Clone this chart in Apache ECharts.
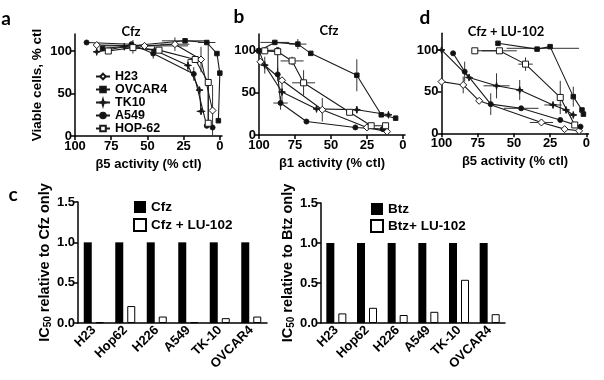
<!DOCTYPE html>
<html>
<head>
<meta charset="utf-8">
<script src="https://cdn.jsdelivr.net/npm/echarts@6/dist/echarts.min.js"></script>
<style>
  html, body { margin: 0; padding: 0; background: #fff; }
  #chart { width: 604px; height: 380px; }
</style>
</head>
<body>
<div id="chart"></div>
<script>
// panel a: viable cells vs beta5 activity, Cfz  ([activity, viable])
const aH23 = [[85,107],[52,106],[31,108],[13,90],[5,30]];
const aOVCAR4 = [[81,103],[24,112],[9,110],[2,97],[0,74],[1,18]];
const aTK10 = [[85,99],[66,105],[45,101],[22,83],[14,54],[13,29]];
const aA549 = [[92,110],[61,108],[46,97],[18,73],[9,12],[5,10]];
const aHOP62 = [[77,100],[60,104],[42,101],[17,90],[8,63],[8,15]];
// error bars [x, y, dx, dy]
const aErr = [[60,105,0,8],[52,106,30,0],[31,108,10,8],[24,112,16,0],[46,97,0,6],[22,83,0,7],
  [13,90,0,15],[17,90,5,0],[8,63,0,45],[5,30,0,30],[13,29,3,0],[18,73,0,8],[9,110,6,0]];

// panel b: beta1 activity, Cfz
const bH23 = [[99,87],[84,65],[56,30],[25,9],[11,4]];
const bOVCAR4 = [[100,100],[89,110],[73,108],[64,97],[32,71],[15,24],[5,20]];
const bTK10 = [[100,100],[96,83],[84,51],[60,31],[32,30],[10,24]];
const bA549 = [[100,100],[87,101],[87,72],[85,38],[67,16],[33,9],[14,7]];
const bHOP62 = [[96,100],[87,99],[77,88],[69,62],[37,27],[22,11],[12,11]];
const bErr = [[89,110,10,0],[73,108,6,6],[32,71,0,19],[77,88,8,5],[69,62,8,15],[85,38,5,8],
  [56,30,0,14],[32,30,0,4],[87,72,0,8],[84,51,0,12],[96,83,2,10]];

// panel d: beta5 activity, Cfz + LU-102
const dH23 = [[100,62],[85,58],[74,39],[31,13],[15,5],[5,3]];
const dOVCAR4 = [[61,108],[34,101],[25,104],[9,44],[3,28],[2,23]];
const dTK10 = [[100,100],[81,67],[62,57],[46,52],[23,34],[14,28],[9,22]];
const dA549 = [[92,96],[84,74],[66,35],[45,30],[18,16],[4,8]];
const dHOP62 = [[77,99],[60,99],[42,83],[18,43],[8,10]];
const dErr = [[84,74,0,12],[85,58,0,10],[66,35,0,13],[62,57,9,15],[46,52,0,12],[45,30,12,0],
  [42,83,5,8],[18,43,0,20],[9,44,0,12],[31,13,8,0],[30,102,25,0],[60,99,12,0],[23,34,6,0]];

// panel c: IC50 relative to single drug
const cellLines = ['H23', 'Hop62', 'H226', 'A549', 'TK-10', 'OVCAR4'];
const cfz = [1, 1, 1, 1, 1, 1];
const cfzLu = [0.01, 0.21, 0.08, 0.01, 0.06, 0.08];
const btz = [1, 1, 1, 1, 1, 1];
const btzLu = [0.12, 0.19, 0.10, 0.14, 0.54, 0.11];

const activityTicks = [0, 25, 50, 75, 100];
const viableTicks = [0, 50, 100];

const ink = '#111';
const starPath = 'path://M0,-10 L2.2,-2.2 L10,0 L2.2,2.2 L0,10 L-2.2,2.2 L-10,0 L-2.2,-2.2 Z';
const styles = {
  'H23': { symbol: 'diamond', symbolSize: 7, color: '#fff' },
  'OVCAR4': { symbol: 'rect', symbolSize: 4.5, color: ink },
  'TK10': { symbol: starPath, symbolSize: 7, color: ink },
  'A549': { symbol: 'circle', symbolSize: 5, color: ink },
  'HOP-62': { symbol: 'rect', symbolSize: 6, color: '#fff' }
};

const tickFont = { color: '#000', fontFamily: 'Liberation Sans', fontWeight: 'bold', fontSize: 13 };

function lineSeries(name, data, idx) {
  const s = styles[name];
  return {
    name: name, type: 'line', xAxisIndex: idx, yAxisIndex: idx, data: data,
    symbol: s.symbol, symbolSize: s.symbolSize, showAllSymbol: true, z: 3,
    lineStyle: { color: '#1a1a1a', width: 1.1 },
    itemStyle: { color: s.color, borderColor: '#1a1a1a', borderWidth: 1 }
  };
}

function errSeries(data, idx) {
  return {
    type: 'custom', xAxisIndex: idx, yAxisIndex: idx, data: data, z: 2, silent: true,
    renderItem: function (params, api) {
      const x = api.value(0), y = api.value(1), dx = api.value(2), dy = api.value(3);
      const kids = [];
      const seg = (p1, p2) => kids.push({
        type: 'line',
        shape: { x1: p1[0], y1: p1[1], x2: p2[0], y2: p2[1] },
        style: { stroke: '#333', lineWidth: 1 }
      });
      if (dx) seg(api.coord([Math.min(x + dx, 100), y]), api.coord([Math.max(x - dx, -1), y]));
      if (dy) seg(api.coord([x, y - dy]), api.coord([x, Math.min(y + dy, 119)]));
      return { type: 'group', children: kids };
    }
  };
}

function activityAxis(idx, name) {
  return {
    type: 'value', gridIndex: idx, inverse: true, min: -1.5, max: 100,
    name: name, nameLocation: 'middle', nameGap: 22,
    nameTextStyle: { color: '#000', fontFamily: 'Liberation Sans', fontWeight: 'bold', fontSize: 13 },
    axisLine: { onZero: false, lineStyle: { color: '#000', width: 1.5 } },
    axisTick: { customValues: activityTicks, length: 4, lineStyle: { color: '#000', width: 1.5 } },
    axisLabel: Object.assign({ customValues: activityTicks, margin: 4 }, tickFont),
    splitLine: { show: false }
  };
}

function viableAxis(idx, name) {
  return {
    type: 'value', gridIndex: idx, min: 0, max: 120,
    name: name || '', nameLocation: 'middle', nameGap: 31,
    nameTextStyle: { color: '#000', fontFamily: 'Liberation Sans', fontWeight: 'bold', fontSize: 13.5 },
    axisLine: { show: true, onZero: false, lineStyle: { color: '#000', width: 1.5 } },
    axisTick: { show: true, customValues: viableTicks, length: 4, lineStyle: { color: '#000', width: 1.5 } },
    axisLabel: Object.assign({ customValues: viableTicks, margin: 3 }, tickFont),
    splitLine: { show: false }
  };
}

function catAxis(idx) {
  return {
    type: 'category', gridIndex: idx, data: cellLines,
    axisLine: { lineStyle: { color: '#000', width: 1.5 } },
    axisTick: { show: false },
    axisLabel: { interval: 0, rotate: 45, margin: 5, color: '#000', fontFamily: 'Liberation Sans', fontWeight: 'bold', fontSize: 13 }
  };
}

function icAxis(idx, drug) {
  return {
    type: 'value', gridIndex: idx, min: 0, max: 1.5, interval: 0.5,
    name: '{t|IC}{s|50}{t| relative to ' + drug + ' only}', nameLocation: 'middle', nameGap: 22,
    nameTextStyle: {
      rich: {
        t: { color: '#000', fontFamily: 'Liberation Sans', fontWeight: 'bold', fontSize: 14.5 },
        s: { color: '#000', fontFamily: 'Liberation Sans', fontWeight: 'bold', fontSize: 10, verticalAlign: 'bottom', padding: [6, 0, 0, 0] }
      }
    },
    axisLine: { show: true, lineStyle: { color: '#000', width: 1.5 } },
    axisTick: { show: true, length: 4, lineStyle: { color: '#000', width: 1.5 } },
    axisLabel: Object.assign({ margin: 3, formatter: v => v.toFixed(1) }, tickFont),
    splitLine: { show: false }
  };
}

function barSeries(name, data, idx, filled) {
  return {
    name: name, type: 'bar', xAxisIndex: idx, yAxisIndex: idx, data: data,
    barWidth: 8, barGap: '50%',
    itemStyle: filled ? { color: '#000' } : { color: '#fff', borderColor: '#000', borderWidth: 1 }
  };
}

function label(text, x, y, size, font) {
  return {
    type: 'text', x: x, y: y,
    style: { text: text, fill: '#000', font: 'bold ' + size + 'px ' + font, align: 'center', verticalAlign: 'middle' }
  };
}

const names = ['H23', 'OVCAR4', 'TK10', 'A549', 'HOP-62'];
const panels = [
  [aH23, aOVCAR4, aTK10, aA549, aHOP62],
  [bH23, bOVCAR4, bTK10, bA549, bHOP62],
  [dH23, dOVCAR4, dTK10, dA549, dHOP62]
];
const series = [errSeries(aErr, 0), errSeries(bErr, 1), errSeries(dErr, 2)];
panels.forEach((sets, idx) => sets.forEach((d, k) => series.push(lineSeries(names[k], d, idx))));
series.push(barSeries('Cfz', cfz, 3, true), barSeries('Cfz + LU-102', cfzLu, 3, false));
series.push(barSeries('Btz', btz, 4, true), barSeries('Btz+ LU-102', btzLu, 4, false));

const legendText = { color: '#000', fontFamily: 'Liberation Sans', fontWeight: 'bold', fontSize: 12.5 };

const chart = echarts.init(document.getElementById('chart'), null, { renderer: 'canvas' });
chart.setOption({
  animation: false,
  backgroundColor: '#fff',
  grid: [
    { left: 75, top: 34, width: 147, height: 102 },
    { left: 259, top: 34, width: 146, height: 101 },
    { left: 441.5, top: 33.3, width: 147, height: 100 },
    { left: 78, top: 202, width: 189, height: 121 },
    { left: 321, top: 203, width: 184, height: 120 }
  ],
  xAxis: [
    activityAxis(0, 'β5 activity (% ctl)'),
    activityAxis(1, 'β1 activity (% ctl)'),
    activityAxis(2, 'β5 activity (% ctl)'),
    catAxis(3), catAxis(4)
  ],
  yAxis: [
    viableAxis(0, 'Viable cells, % ctl'), viableAxis(1), viableAxis(2),
    icAxis(3, 'Cfz'), icAxis(4, 'Btz')
  ],
  legend: [
    { data: names, orient: 'vertical', left: 90, top: 65, itemWidth: 14, itemHeight: 7, itemGap: 0, z: 20,
      textStyle: Object.assign({ lineHeight: 11.7, width: 60, overflow: 'none' }, legendText), selectedMode: false },
    { data: ['Cfz', 'Cfz + LU-102'], orient: 'vertical', left: 128, top: 195, icon: 'rect',
      itemWidth: 12, itemHeight: 12, itemGap: 4, textStyle: Object.assign({}, legendText, { fontSize: 13.5 }), selectedMode: false },
    { data: ['Btz', 'Btz+ LU-102'], orient: 'vertical', left: 365, top: 197, icon: 'rect',
      itemWidth: 12, itemHeight: 12, itemGap: 3, textStyle: Object.assign({}, legendText, { fontSize: 13.5 }), selectedMode: false }
  ],
  graphic: [
    label('a', 6, 19, 19, 'Lato'),
    label('b', 239, 17, 19, 'Lato'),
    label('d', 425, 18, 19, 'Lato'),
    label('c', 13, 195, 19, 'Lato'),
    label('Cfz', 131, 32, 13, 'Lato'),
    label('Cfz', 329, 31, 13, 'Lato'),
    label('Cfz + LU-102', 506, 32, 13, 'Lato')
  ],
  series: series
});
</script>
</body>
</html>
